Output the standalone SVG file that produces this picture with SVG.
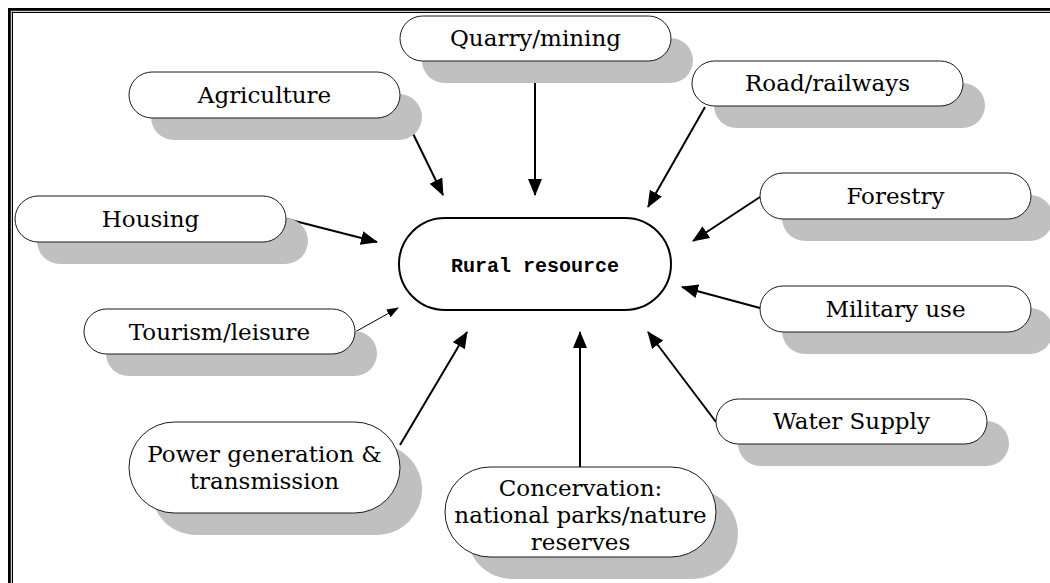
<svg xmlns="http://www.w3.org/2000/svg" width="1050" height="583" viewBox="0 0 1050 583">
<style>
.shadow{fill:#c0c0c0;stroke:none}
.box{fill:#ffffff;stroke:#1a1a1a;stroke-width:1}
.lbl{font-family:"DejaVu Serif","Liberation Serif",serif;font-size:23px;fill:#000;text-anchor:middle}
.center{fill:#ffffff;stroke:#000;stroke-width:2}
.clbl{font-family:"Liberation Mono","Courier New",monospace;font-size:20px;font-weight:bold;fill:#000;text-anchor:middle}
.arrow{stroke:#000;stroke-width:2;fill:none;marker-end:url(#ah)}
.arrow-thin{stroke:#000;stroke-width:1;fill:none;marker-end:url(#ahs)}
</style>
<defs>
<marker id="ah" markerUnits="userSpaceOnUse" markerWidth="18" markerHeight="15" refX="16" refY="7" orient="auto">
<path d="M0,0 L17,7 L0,14 z" fill="#000"/>
</marker>
<marker id="ahs" markerUnits="userSpaceOnUse" markerWidth="13" markerHeight="10" refX="11" refY="4.5" orient="auto">
<path d="M0,0 L12,4.5 L0,9 z" fill="#000"/>
</marker>
</defs>
<rect width="1050" height="583" fill="#ffffff"/>
<g id="frame">
<rect x="8" y="8" width="1042" height="2.8" fill="#000"/>
<rect x="8" y="8" width="2.8" height="575" fill="#000"/>
<rect x="11.8" y="11.8" width="1038.2" height="1.2" fill="#000"/>
<rect x="11.8" y="11.8" width="1.2" height="571.2" fill="#000"/>
</g>
<g id="connectors">
<line class="arrow" x1="399" y1="105" x2="443" y2="195"/>
<line class="arrow" x1="535" y1="61" x2="535" y2="195"/>
<line class="arrow" x1="705" y1="107" x2="648" y2="207"/>
<line class="arrow" x1="760" y1="197" x2="693" y2="241"/>
<line class="arrow" x1="287" y1="219" x2="377" y2="242"/>
<line class="arrow" x1="760" y1="308" x2="682" y2="287"/>
<line class="arrow-thin" x1="355" y1="332" x2="398" y2="308"/>
<line class="arrow" x1="400" y1="445" x2="467" y2="332"/>
<line class="arrow" x1="580" y1="467" x2="580" y2="332"/>
<line class="arrow" x1="716" y1="422" x2="648" y2="332"/>
</g>
<g id="quarry">
<rect class="shadow" x="422" y="38" width="271" height="45" rx="22.5"/>
<rect class="box" x="400" y="16" width="271" height="45" rx="22.5"/>
<text class="lbl" x="535.5" y="46">Quarry/mining</text>
</g>
<g id="agriculture">
<rect class="shadow" x="151" y="94" width="271" height="46" rx="23"/>
<rect class="box" x="129" y="72" width="271" height="46" rx="23"/>
<text class="lbl" x="264.5" y="102.5">Agriculture</text>
</g>
<g id="road">
<rect class="shadow" x="714" y="83" width="271" height="45" rx="22.5"/>
<rect class="box" x="692" y="61" width="271" height="45" rx="22.5"/>
<text class="lbl" x="827.5" y="91">Road/railways</text>
</g>
<g id="forestry">
<rect class="shadow" x="782" y="195" width="271" height="46" rx="23"/>
<rect class="box" x="760" y="173" width="271" height="46" rx="23"/>
<text class="lbl" x="895.5" y="203.5">Forestry</text>
</g>
<g id="housing">
<rect class="shadow" x="37" y="218" width="271" height="46" rx="23"/>
<rect class="box" x="15" y="196" width="271" height="46" rx="23"/>
<text class="lbl" x="150.5" y="227">Housing</text>
</g>
<g id="military">
<rect class="shadow" x="782" y="308" width="271" height="46" rx="23"/>
<rect class="box" x="760" y="286" width="271" height="46" rx="23"/>
<text class="lbl" x="895.5" y="317">Military use</text>
</g>
<g id="tourism">
<rect class="shadow" x="106" y="331" width="271" height="45" rx="22.5"/>
<rect class="box" x="84" y="309" width="271" height="45" rx="22.5"/>
<text class="lbl" x="219.5" y="339.5">Tourism/leisure</text>
</g>
<g id="water">
<rect class="shadow" x="738" y="421" width="271" height="45" rx="22.5"/>
<rect class="box" x="716" y="399" width="271" height="45" rx="22.5"/>
<text class="lbl" x="851.5" y="429">Water Supply</text>
</g>
<g id="power">
<rect class="shadow" x="151" y="444" width="271" height="91" rx="45.5"/>
<rect class="box" x="129" y="422" width="271" height="91" rx="45.5"/>
<text class="lbl" x="264.5" y="461.5">Power generation &amp;</text>
<text class="lbl" x="264.5" y="488.5">transmission</text>
</g>
<g id="conservation">
<rect class="shadow" x="467" y="489" width="271" height="90" rx="45"/>
<rect class="box" x="445" y="467" width="271" height="90" rx="45"/>
<text class="lbl" x="580.5" y="496">Concervation:</text>
<text class="lbl" x="580.5" y="523">national parks/nature</text>
<text class="lbl" x="580.5" y="550">reserves</text>
</g>
<g id="rural">
<rect class="center" x="399" y="218" width="272" height="92" rx="46"/>
<text class="clbl" x="535" y="272">Rural resource</text>
</g>
</svg>
